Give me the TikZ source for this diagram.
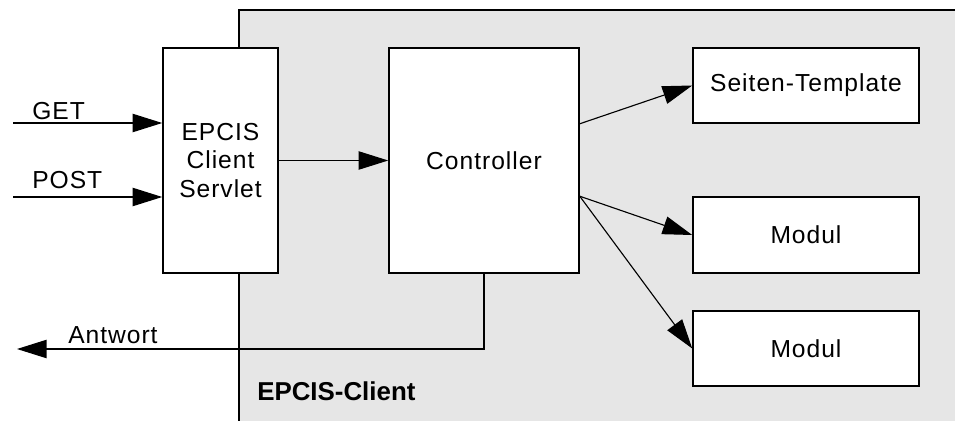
\documentclass[tikz,border=0pt]{standalone}
\usepackage{fontspec}
\setmainfont[LetterSpace=4, BoldFeatures={LetterSpace=0}]{Liberation Sans}
\usepackage{tikz}
\usetikzlibrary{arrows.meta}
\definecolor{clientgray}{HTML}{E6E6E6}
\newcommand{\pix}{0.025cm}

\begin{document}
\begin{tikzpicture}[x=\pix, y=-\pix,
    font=\fontsize{17.5}{20}\selectfont,
    block/.style={draw=black, line width=1.1pt, fill=white, inner sep=0pt, align=center},
    arr/.style={line width=0.8pt, -{Triangle[length=21pt, width=13pt]}},
    lbl/.style={inner sep=0pt, anchor=base west}]
      \useasboundingbox (0,0) rectangle (955,421);
      % client area
      \fill[clientgray] (239,10) rectangle (955,421);
      \draw[line width=1.1pt] (239,421) -- (239,10) -- (955,10);
      \node[lbl, font=\fontsize{18.4}{20}\selectfont\bfseries] (client) at (257,400) {EPCIS-Client};
      % boxes
      \node[block, minimum width=115*\pix, minimum height=225*\pix] (servlet) at (220.5,160.5) {EPCIS\\Client\\Servlet};
      \node[block, minimum width=190*\pix, minimum height=225*\pix] (ctrl) at (484,160.5) {Controller};
      \node[block, minimum width=226*\pix, minimum height=75*\pix] (tmpl) at (806,85.5) {Seiten-Template};
      \node[block, minimum width=226*\pix, minimum height=76*\pix] (modA) at (806,235) {Modul};
      \node[block, minimum width=226*\pix, minimum height=75*\pix] (modB) at (806,348.5) {Modul};
      % requests
      \coordinate (getin) at (13,123);
      \coordinate (postin) at (13,197);
      \coordinate (antw) at (17,349);
      \draw[arr] (getin) -- (getin -| servlet.west);
      \draw[arr] (postin) -- (postin -| servlet.west);
      \node[lbl] (getlbl) at (32,119) {GET};
      \node[lbl] (postlbl) at (32,188) {POST};
      \draw[arr] (servlet) -- (ctrl);
      \draw[arr] (ctrl.east |- tmpl.south) -- (tmpl.west);
      \draw[arr] (ctrl.east |- modA.north) -- (modA.west);
      \draw[arr] (ctrl.east |- modA.north) -- (modB.west);
      % answer
      \draw[arr] (ctrl.south) |- (antw);
      \node[lbl] (antwlbl) at (68,343) {Antwort};
\end{tikzpicture}
\end{document}
